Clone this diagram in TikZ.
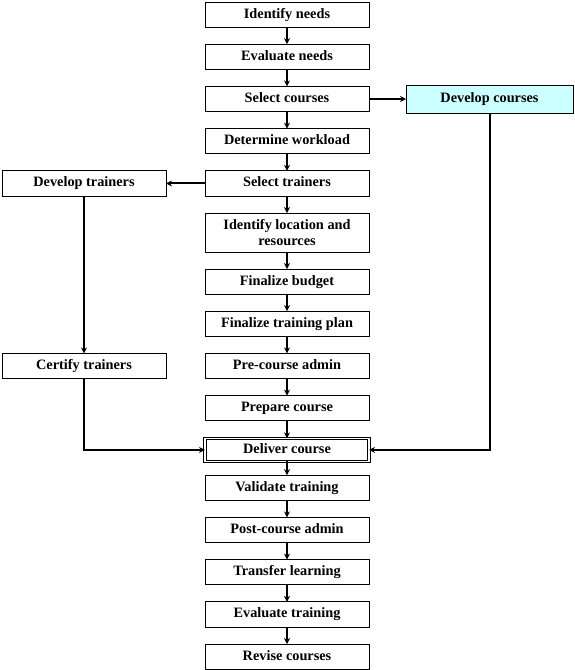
\documentclass[tikz,border=0pt]{standalone}
\usepackage{fontspec}
\setmainfont{Liberation Serif}
\usetikzlibrary{positioning,arrows.meta}
\definecolor{devfill}{HTML}{CCFFFF}

\begin{document}
\begin{tikzpicture}[>={Stealth[length=6pt,width=6pt]},x=1pt,y=1pt,node distance=17pt,line width=2pt]
  \tikzstyle{stepbox}=[draw=black,line width=0.8pt,outer sep=0pt,minimum width=164pt,minimum height=25.2pt,inner sep=0pt,text height=10pt,text depth=3pt,font=\bfseries\fontsize{14.3}{15.5}\selectfont,align=center]
  \useasboundingbox (0,0) rectangle (574,-670);

  % Main sequence
  \node[stepbox] (idn) at (287,-14.6) {Identify needs};
  \node[stepbox] (evn) [below=of idn] {Evaluate needs};
  \node[stepbox] (slc) [below=of evn] {Select courses};
  \node[stepbox] (wkl) [below=of slc] {Determine workload};
  \node[stepbox] (trn) [below=of wkl] {Select trainers};
  \node[stepbox,minimum height=39pt,text height=,text depth=] (loc) [below=of trn] {Identify location and\\resources};
  \node[stepbox] (bdg) [below=of loc] {Finalize budget};
  \node[stepbox] (pln) [below=of bdg] {Finalize training plan};
  \node[stepbox] (pre) [below=of pln] {Pre-course admin};
  \node[stepbox] (prp) [below=of pre] {Prepare course};
  \node[stepbox,double,double distance=1.6pt,minimum height=23pt] (dlv) [below=17.6pt of prp] {Deliver course};
  \node[stepbox] (val) [below=13.8pt of dlv] {Validate training};
  \node[stepbox] (pst) [below=of val] {Post-course admin};
  \node[stepbox] (tfl) [below=of pst] {Transfer learning};
  \node[stepbox] (evt) [below=of tfl] {Evaluate training};
  \node[stepbox] (rvc) [below=of evt] {Revise courses};

  % Side branches
  \node[stepbox,fill=devfill,minimum width=167pt,minimum height=28pt] (dcr) [right=37pt of slc] {Develop courses};
  \node[stepbox] (dtr) [left=39pt of trn] {Develop trainers};
  \node[stepbox] (ctr) at (dtr |- pre) {Certify trainers};

  % Connectors
  \foreach \a/\b in {idn/evn,evn/slc,slc/wkl,wkl/trn,trn/loc,loc/bdg,bdg/pln,pln/pre,pre/prp,prp/dlv,dlv/val,val/pst,pst/tfl,tfl/evt,evt/rvc}
    \draw[->] (\a) -- (\b);
  \draw[->] (slc) -- (dcr);
  \draw[->] (trn) -- (dtr);
  \draw[->] (dtr) -- (ctr);
  \draw[->] (ctr) |- (dlv);
  \draw[->] (dcr) |- (dlv);
\end{tikzpicture}
\end{document}
